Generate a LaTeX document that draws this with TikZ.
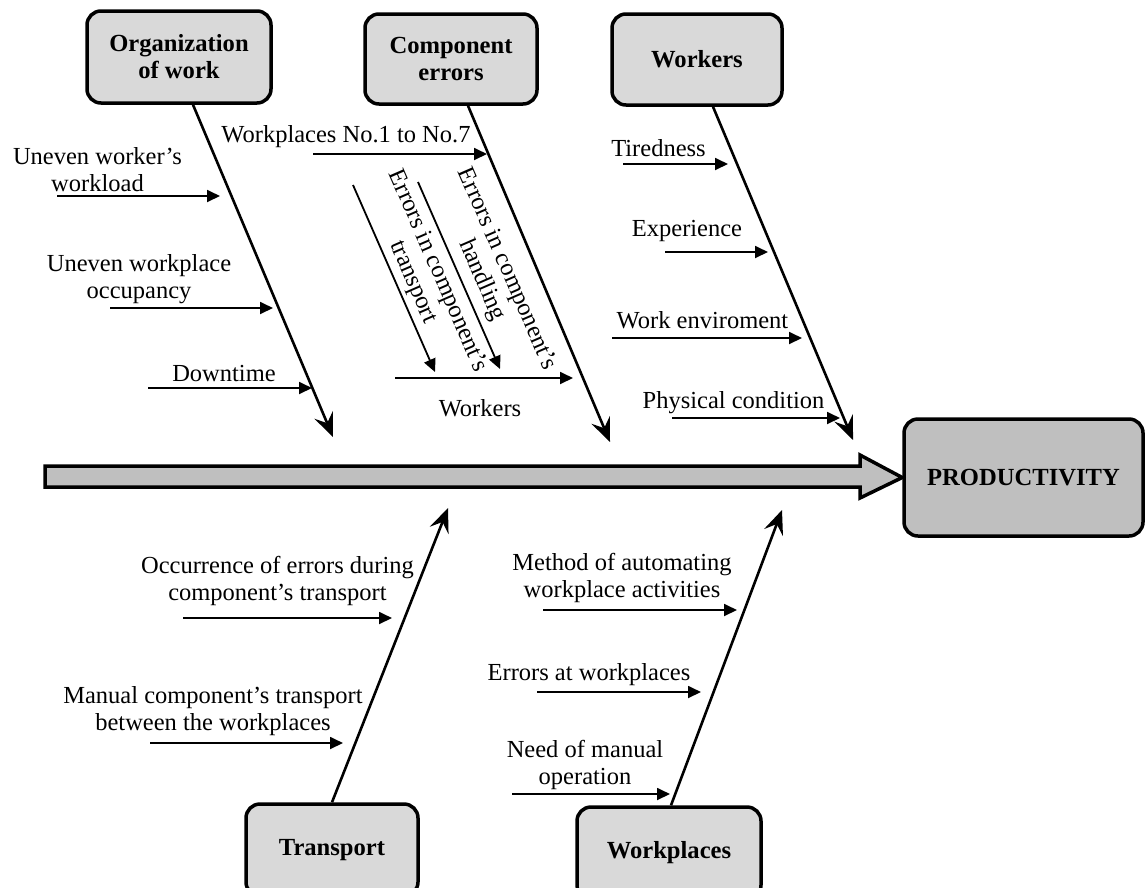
\documentclass[tikz,border=0pt]{standalone}
\usepackage{fontspec}
\setmainfont{Liberation Serif}
\usetikzlibrary{arrows.meta}
\definecolor{boxgray}{HTML}{D9D9D9}
\definecolor{prodgray}{HTML}{BFBFBF}
\tikzset{
  catbox/.style={draw, line width=3.5pt, rounded corners=14pt, fill=boxgray,
    font=\fontsize{24.6}{27}\selectfont\bfseries, align=center, inner sep=0pt},
  lbl/.style={font=\fontsize{24.5}{27}\selectfont, align=center, inner sep=0pt},
  bone/.style={line width=2.6pt, -{Stealth[length=24pt,width=20pt,inset=9pt]}},
  sub/.style={line width=1.8pt, -{Triangle[length=13pt,width=12pt]}},
}
\begin{document}
\begin{tikzpicture}[x=1pt,y=-1pt]
\useasboundingbox (0,0) rectangle (1147,887);
\clip (0,0) rectangle (1147,887);

% category boxes
\node[catbox, minimum width=184pt, minimum height=92pt] (org) at (179,57) {Organization\\of work};
\node[catbox, minimum width=172pt, minimum height=90pt] (comp) at (451,59) {Component\\errors};
\node[catbox, minimum width=170pt, minimum height=91pt] (wrk) at (697,59.5) {Workers};
\node[catbox, minimum width=172pt, minimum height=92pt] (trans) at (332,850) {Transport};
\node[catbox, minimum width=184pt, minimum height=92pt] (wplc) at (669,853) {Workplaces};
\node[catbox, fill=prodgray, minimum width=239pt, minimum height=117pt] (prod) at (1023.5,477.5) {PRODUCTIVITY};

% spine
\draw[line width=3.5pt, fill=prodgray, line join=miter]
  (45,466) -- (860,466) -- (860,455) -- (prod.west) -- (860,498) -- (860,487) -- (45,487) -- cycle;

% bone tips
\coordinate (b1) at (333,437);
\coordinate (b2) at (610,442);
\coordinate (b3) at (853,440);
\coordinate (b4) at (448,508);
\coordinate (b5) at (782,510);
\draw[bone] ([xshift=14pt]org.south) -- (b1);
\draw[bone] ([xshift=17pt]comp.south) -- (b2);
\draw[bone] ([xshift=16pt]wrk.south) -- (b3);
\draw[bone] (trans.north) -- (b4);
\draw[bone] ([xshift=2pt]wplc.north) -- (b5);

% Organization of work
\node[lbl] (uw) at (97.5,170) {Uneven worker’s\\workload};
\coordinate (uw1) at (57,196); \coordinate (uw2) at (220,196);
\draw[sub] (uw1) -- (uw2);
\node[lbl] (uwo) at (139,279) {Uneven workplace\\occupancy};
\coordinate (uwo1) at (110,308); \coordinate (uwo2) at (273,308);
\draw[sub] (uwo1) -- (uwo2);
\node[lbl] (dt) at (224,373) {Downtime};
\coordinate (dt1) at (148,388); \coordinate (dt2) at (312,388);
\draw[sub] (dt1) -- (dt2);

% Component errors
\node[lbl] (wp) at (346,137) {Workplaces No.1 to No.7};
\coordinate (wp1) at (313,154); \coordinate (wp2) at (487,154);
\draw[sub] (wp1) -- (wp2);
\coordinate (d11) at (353,185); \coordinate (d12) at (435,372);
\draw[sub] (d11) -- (d12);
\coordinate (d21) at (418,182); \coordinate (d22) at (500,369);
\draw[sub] (d21) -- (d22);
\node[lbl, rotate=-66.5] (et) at (425,277) {Errors in component’s\\transport};
\node[lbl, rotate=-66.5] (eh) at (494,275) {Errors in component’s\\handling};
\coordinate (h1) at (395,378); \coordinate (h2) at (573,378);
\draw[sub] (h1) -- (h2);
\node[lbl] (cw) at (480,408) {Workers};

% Workers
\node[lbl] (tir) at (658.5,148) {Tiredness};
\coordinate (tir1) at (623,164); \coordinate (tir2) at (728,164);
\draw[sub] (tir1) -- (tir2);
\node[lbl] (exp) at (687,231) {Experience};
\coordinate (exp1) at (665,252); \coordinate (exp2) at (768,252);
\draw[sub] (exp1) -- (exp2);
\node[lbl] (env) at (702.5,320) {Work enviroment};
\coordinate (env1) at (612,338); \coordinate (env2) at (802,338);
\draw[sub] (env1) -- (env2);
\node[lbl] (phy) at (733.5,403) {Physical condition};
\coordinate (phy1) at (672,418); \coordinate (phy2) at (840,418);
\draw[sub] (phy1) -- (phy2);

% Transport
\node[lbl] (occ) at (277.5,581) {Occurrence of errors during\\component’s transport};
\coordinate (occ1) at (183,618); \coordinate (occ2) at (392,618);
\draw[sub] (occ1) -- (occ2);
\node[lbl] (man) at (213,711.5) {Manual component’s transport\\between the workplaces};
\coordinate (man1) at (150,743); \coordinate (man2) at (343,743);
\draw[sub] (man1) -- (man2);

% Workplaces
\node[lbl] (met) at (622,577.5) {Method of automating\\workplace activities};
\coordinate (met1) at (543,610); \coordinate (met2) at (737,610);
\draw[sub] (met1) -- (met2);
\node[lbl] (eaw) at (589,675) {Errors at workplaces};
\coordinate (eaw1) at (537,692); \coordinate (eaw2) at (701,692);
\draw[sub] (eaw1) -- (eaw2);
\node[lbl] (need) at (585,764.5) {Need of manual\\operation};
\coordinate (need1) at (512,794); \coordinate (need2) at (670,794);
\draw[sub] (need1) -- (need2);
\end{tikzpicture}
\end{document}
